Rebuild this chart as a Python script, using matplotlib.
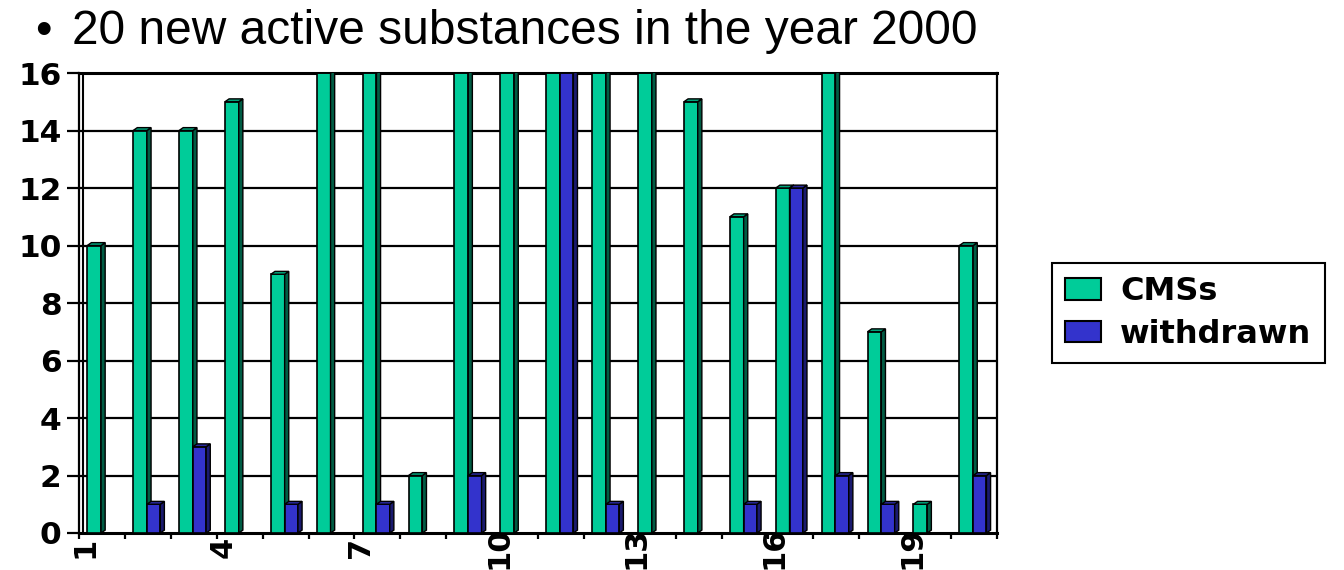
import matplotlib.pyplot as plt
from matplotlib.patches import Polygon, Patch

plt.rcParams['font.family'] = ['Liberation Sans', 'DejaVu Sans']

categories = [str(n) for n in range(1, 21)]
cms = [10, 14, 14, 15, 9, 16, 16, 2, 16, 16, 16, 16, 16, 15, 11, 12, 16, 7, 1, 10]
withdrawn = [0, 1, 3, 0, 1, 0, 1, 0, 2, 0, 16, 1, 0, 0, 1, 12, 2, 1, 0, 2]
shown_labels = ["1", "4", "7", "10", "13", "16", "19"]

green = ("#00CC99", "#005C44", "#00A57C")
blue = ("#3333CC", "#1A1A6E", "#28289E")

DX, DY = 0.09, 0.1  # depth of the fake 3d side
WIDE = 'DejaVu Sans'  # wide bold face for axis and legend labels


def bar3d(ax, x0, w, h, colors):
    face, side, top = colors
    if h <= 0:
        return
    ax.bar(x0, h, width=w, align='edge', color=face, edgecolor='black',
           linewidth=1.2, zorder=3)
    x1 = x0 + w
    ax.add_patch(Polygon([(x1, 0), (x1 + DX, DY), (x1 + DX, h + DY), (x1, h)],
                         closed=True, facecolor=side, edgecolor='black',
                         linewidth=1.0, zorder=3))
    ax.add_patch(Polygon([(x0, h), (x0 + DX, h + DY), (x1 + DX, h + DY), (x1, h)],
                         closed=True, facecolor=top, edgecolor='black',
                         linewidth=1.0, zorder=3))


fig = plt.figure(figsize=(13.44, 5.70), dpi=100, facecolor='white')
W, H = 1344, 570
ax = fig.add_axes([79 / W, 1 - 533 / H, (997 - 79) / W, (533 - 73) / H])

for i in range(len(categories)):
    bar3d(ax, i + 0.18, 0.30, cms[i], green)
    bar3d(ax, i + 0.48, 0.29, withdrawn[i], blue)

ax.set_xlim(0, len(categories))
ax.set_ylim(0, 16)

# horizontal gridlines and inner wall line
for y in range(2, 16, 2):
    ax.axhline(y, color='black', linewidth=1.6, zorder=1)
ax.axvline(0.08, color='black', linewidth=1.5, zorder=1)

ax.set_yticks(range(0, 17, 2))
ax.set_yticklabels([str(v) for v in range(0, 17, 2)], fontsize=22.5,
                   fontweight='bold', family=WIDE)
ax.tick_params(axis='y', length=8.5, width=1.6, pad=4, direction='out')

ax.set_xticks([i + 0.14 for i in range(0, 20, 3)])
ax.set_xticklabels(shown_labels, fontsize=22, fontweight='bold', family=WIDE,
                   rotation=90, va='center', ha='center')
ax.tick_params(axis='x', which='major', length=0, pad=10.5)
ax.set_xticks(range(0, 21), minor=True)
ax.tick_params(axis='x', which='minor', length=4, width=1.6, direction='out')

for s in ax.spines.values():
    s.set_color('black')
ax.spines['top'].set_linewidth(2.2)
ax.spines['bottom'].set_linewidth(2.2)
ax.spines['left'].set_linewidth(1.6)
ax.spines['right'].set_linewidth(1.6)

fig.text(35 / W, 1 - 32 / H, "\u2022", fontsize=34, va='center', ha='left')
fig.text(72 / W, 1 - 32 / H, "20 new active substances in the year 2000",
         fontsize=34.5, va='center', ha='left')

handles = [Patch(facecolor=green[0], edgecolor='black', linewidth=1.5),
           Patch(facecolor=blue[0], edgecolor='black', linewidth=1.5)]
leg = fig.legend(handles, ["CMSs", "withdrawn"], loc='upper left',
                 bbox_to_anchor=(1052 / W, 1 - 263 / H),
                 prop={'size': 23, 'weight': 'bold', 'family': WIDE},
                 frameon=True, fancybox=False, edgecolor='black', framealpha=1,
                 handlelength=1.12, handleheight=0.66, handletextpad=0.6,
                 labelspacing=0.35, borderpad=0.42, borderaxespad=0)
leg.get_frame().set_linewidth(1.5)

fig.savefig("out.png", dpi=100)
